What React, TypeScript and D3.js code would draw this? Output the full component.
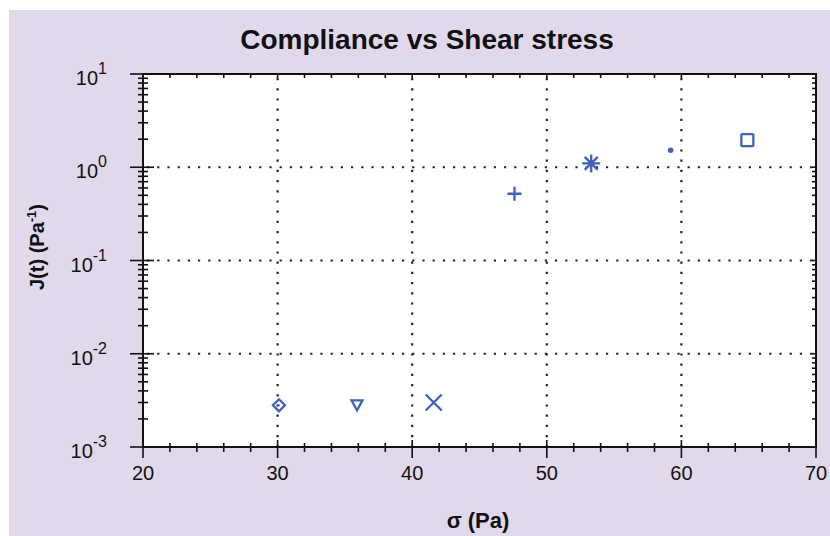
import React, {useEffect, useRef} from 'react'
import * as d3 from 'd3'

// data
const stress = [30.1, 35.9, 41.6, 47.6, 53.3, 59.2, 64.9]
const compliance = [0.0028, 0.0028, 0.003, 0.52, 1.1, 1.52, 1.95]
const markers = ['diamond', 'triangle', 'cross', 'plus', 'asterisk', 'dot', 'square']
const xTicks = [20, 30, 40, 50, 60, 70]
const yExponents = [-3, -2, -1, 0, 1]

const W = 830, H = 536
const margin = {top: 74, right: 14, bottom: 89, left: 143}
const blue = '#3b62c0'
const font = "'Liberation Sans', Arial, sans-serif"

function App() {
  const ref = useRef<SVGSVGElement>(null)

  useEffect(() => {
    const svg = d3.select(ref.current)
    svg.selectAll('*').remove()

    const x = d3.scaleLinear().domain([20, 70]).range([margin.left, W - margin.right])
    const y = d3.scaleLog().domain([1e-3, 1e1]).range([H - margin.bottom, margin.top])
    const [x0, x1] = x.range()
    const [y0, y1] = y.range()

    // lavender panel
    svg.append('rect').attr('x', 9).attr('y', 10).attr('width', W - 9).attr('height', H - 10)
      .attr('fill', '#e1d9eb')
    svg.append('rect').attr('x', x0).attr('y', y1).attr('width', x1 - x0).attr('height', y0 - y1)
      .attr('fill', 'white')

    // dotted grid
    const grid = svg.append('g').attr('stroke', '#222').attr('stroke-width', 2.2)
      .attr('stroke-dasharray', '2.2 8')
    grid.selectAll('line.gx').data(xTicks.slice(1, -1)).join('line')
      .attr('x1', d => x(d)).attr('x2', d => x(d)).attr('y1', y1 + 4).attr('y2', y0)
    grid.selectAll('line.gy').data(yExponents.slice(1, -1)).join('line')
      .attr('y1', d => y(Math.pow(10, d))).attr('y2', d => y(Math.pow(10, d)))
      .attr('x1', x0 + 4).attr('x2', x1)

    // ticks
    const minorX = d3.range(22, 70, 2).filter(v => v % 10 !== 0)
    const minorY: number[] = []
    yExponents.slice(0, -1).forEach(e => { for (let k = 2; k < 10; k++) minorY.push(k * Math.pow(10, e)) })
    const majorY = yExponents.map(e => Math.pow(10, e))

    const ax = svg.append('g').attr('stroke', '#111').attr('stroke-width', 1.6)
    // bottom
    ax.selectAll('.bmin').data(minorX).join('line').attr('class', 'bmin')
      .attr('x1', d => x(d)).attr('x2', d => x(d)).attr('y1', y0 - 4).attr('y2', y0 + 5)
    ax.selectAll('.bmaj').data(xTicks).join('line').attr('class', 'bmaj')
      .attr('x1', d => x(d)).attr('x2', d => x(d)).attr('y1', y0 - 7).attr('y2', y0 + 11)
    // top
    ax.selectAll('.tmin').data(minorX.concat(xTicks)).join('line').attr('class', 'tmin')
      .attr('x1', d => x(d)).attr('x2', d => x(d)).attr('y1', y1).attr('y2', y1 + 4)
    // left
    ax.selectAll('.lmin').data(minorY).join('line').attr('class', 'lmin')
      .attr('y1', d => y(d)).attr('y2', d => y(d)).attr('x1', x0 - 5).attr('x2', x0 + 5)
    ax.selectAll('.lmaj').data(majorY).join('line').attr('class', 'lmaj')
      .attr('y1', d => y(d)).attr('y2', d => y(d)).attr('x1', x0 - 13).attr('x2', x0 + 11)
    // right
    ax.selectAll('.rmin').data(minorY.concat(majorY)).join('line').attr('class', 'rmin')
      .attr('y1', d => y(d)).attr('y2', d => y(d)).attr('x1', x1 - 4).attr('x2', x1)

    // frame
    svg.append('rect').attr('x', x0).attr('y', y1).attr('width', x1 - x0).attr('height', y0 - y1)
      .attr('fill', 'none').attr('stroke', '#111').attr('stroke-width', 2)

    // tick labels
    svg.append('g').selectAll('text').data(xTicks).join('text')
      .attr('x', d => x(d)).attr('y', y0 + 33).attr('text-anchor', 'middle')
      .attr('font-family', font).attr('font-size', 20).attr('fill', '#111')
      .text(d => d)
    const yl = svg.append('g').selectAll('text').data(yExponents).join('text')
      .attr('x', x0 - 36).attr('y', d => y(Math.pow(10, d)) + 11).attr('text-anchor', 'end')
      .attr('font-family', font).attr('font-size', 20).attr('fill', '#111')
    yl.append('tspan').text('10')
    yl.append('tspan').attr('dy', -11).attr('font-size', 16)
      .text(d => (d < 0 ? '-' : '') + Math.abs(d))

    // titles
    svg.append('text').attr('x', 427).attr('y', 49).attr('text-anchor', 'middle')
      .attr('font-family', font).attr('font-weight', 'bold')
      .attr('font-size', 28).attr('fill', '#111').text('Compliance vs Shear stress')
    svg.append('text').attr('x', 478).attr('y', 528).attr('text-anchor', 'middle')
      .attr('font-family', font).attr('font-weight', 'bold')
      .attr('font-size', 22).attr('fill', '#111').text('σ (Pa)')
    const ylab = svg.append('text').attr('transform', 'translate(44,247) rotate(-90)')
      .attr('text-anchor', 'middle')
      .attr('font-family', font).attr('font-weight', 'bold')
      .attr('font-size', 20).attr('fill', '#111')
    ylab.append('tspan').text('J(t) (Pa')
    ylab.append('tspan').attr('dy', -8).attr('font-size', 13).text('-1')
    ylab.append('tspan').attr('dy', 8).text(')')

    // markers
    const pts = stress.map((s, i) => ({x: x(s), y: y(compliance[i]), m: markers[i]}))
    const g = svg.append('g').attr('stroke', blue).attr('stroke-width', 2.3).attr('fill', 'none')
    pts.forEach(p => {
      const t = g.append('g').attr('transform', `translate(${p.x},${p.y})`)
      if (p.m === 'diamond') {
        t.append('path').attr('d', 'M0,-6L6,0L0,6L-6,0Z')
        t.append('circle').attr('r', 1).attr('fill', blue).attr('stroke', 'none')
      } else if (p.m === 'triangle') {
        t.append('path').attr('d', 'M-5.5,-5L5.5,-5L0,5Z')
      } else if (p.m === 'cross') {
        t.append('path').attr('d', 'M-8,-8L8,8M-8,8L8,-8')
      } else if (p.m === 'plus') {
        t.append('path').attr('d', 'M-7,0L7,0M0,-7L0,7')
      } else if (p.m === 'asterisk') {
        t.append('path').attr('d', 'M-9,0L9,0M0,-9L0,9M-6.5,-6.5L6.5,6.5M-6.5,6.5L6.5,-6.5')
      } else if (p.m === 'dot') {
        t.append('circle').attr('r', 2.8).attr('fill', blue).attr('stroke', 'none')
      } else {
        t.append('rect').attr('x', -6).attr('y', -6).attr('width', 12).attr('height', 12).attr('rx', 1)
      }
    })
  })

  return (
    <svg ref={ref} width={W} height={H} style={{position: 'absolute', left: 0, top: 0, background: 'white'}}></svg>
  )
}

export default App
